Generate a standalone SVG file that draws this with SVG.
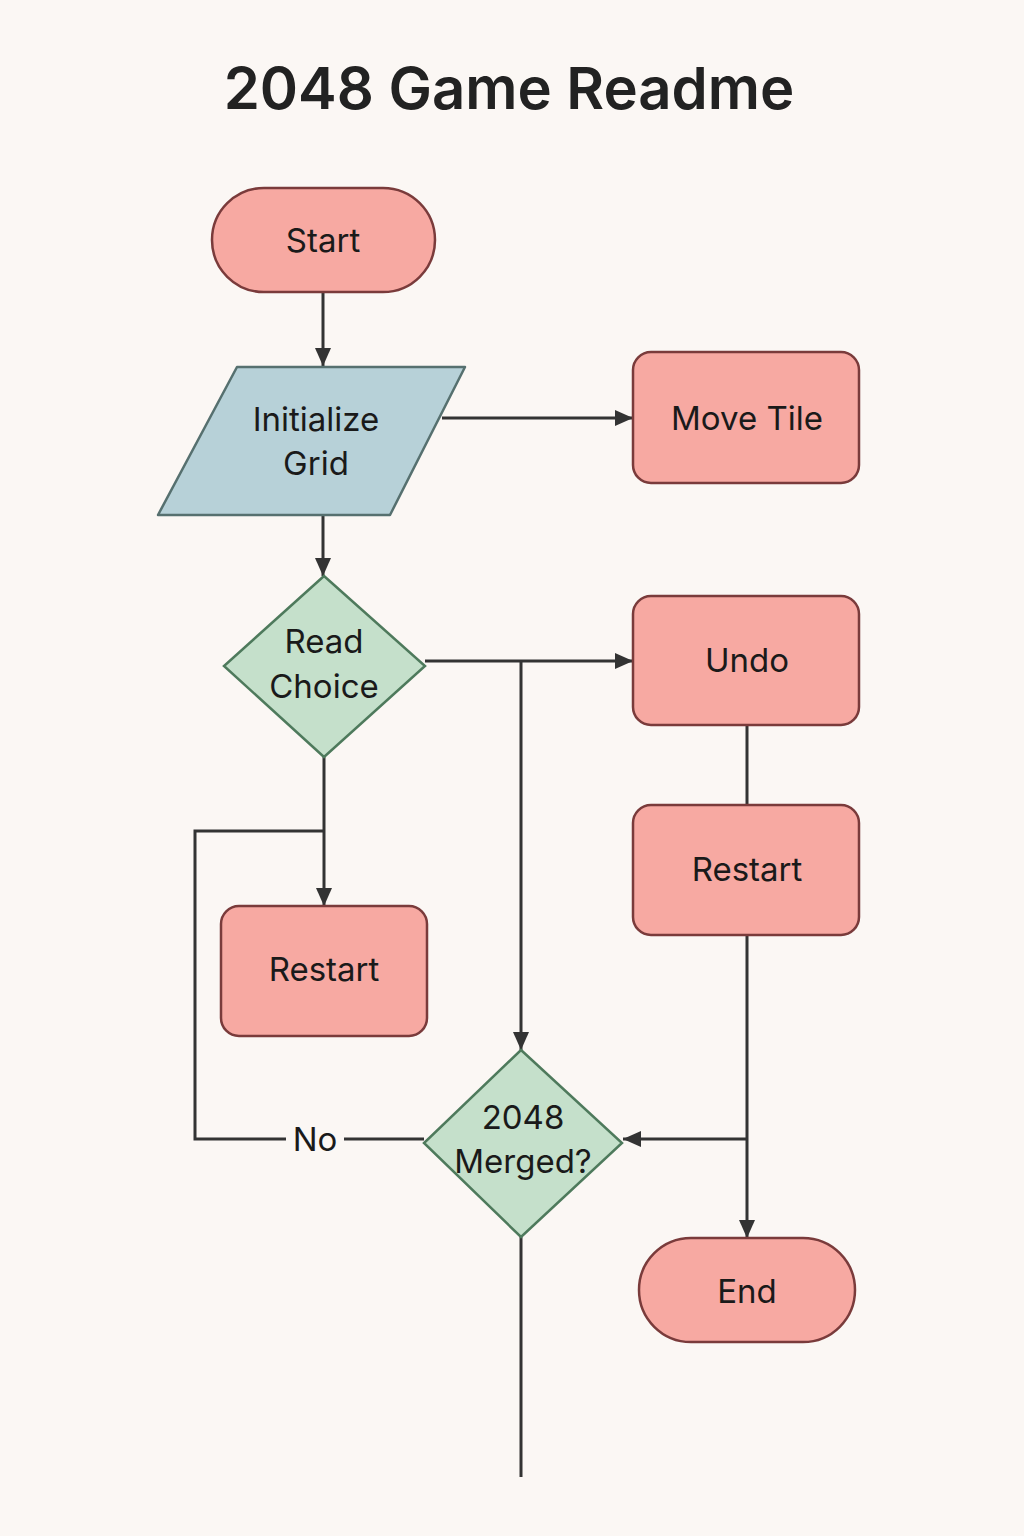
<svg xmlns="http://www.w3.org/2000/svg" width="1024" height="1536" viewBox="0 0 1024 1536">
<defs>
<marker id="ah" markerWidth="20" markerHeight="20" refX="18" refY="10" orient="auto" markerUnits="userSpaceOnUse">
<path d="M0,2 L18,10 L0,18 Z" fill="#333333"/>
</marker>
<style>
.term{fill:#F7A9A2;stroke:#7A3B3B;stroke-width:2.5}
.proc{fill:#F7A9A2;stroke:#7A3B3B;stroke-width:2.5}
.io{fill:#B7D1D8;stroke:#56706F;stroke-width:2.5;stroke-linejoin:round}
.dec{fill:#C5E0CB;stroke:#4E7A5C;stroke-width:2.5}
.lbl{font-family:Inter,"Noto Sans","Liberation Sans",sans-serif;font-size:33px;fill:#1a1a1a;text-anchor:middle;dominant-baseline:central}
.conn{fill:none;stroke:#333333;stroke-width:3}
</style>
</defs>
<rect width="1024" height="1536" fill="#FBF7F4"/>
<text x="509" y="88" font-family="Inter,'Noto Sans','Liberation Sans',sans-serif" font-size="58" font-weight="600" fill="#222222" text-anchor="middle" dominant-baseline="central">2048 Game Readme</text>

<g id="connectors">
<line class="conn" x1="323" y1="292" x2="323" y2="366" marker-end="url(#ah)"/>
<line class="conn" x1="442" y1="418" x2="633" y2="418" marker-end="url(#ah)"/>
<line class="conn" x1="323" y1="515" x2="323" y2="576" marker-end="url(#ah)"/>
<line class="conn" x1="425" y1="661" x2="633" y2="661" marker-end="url(#ah)"/>
<line class="conn" x1="521" y1="661" x2="521" y2="1050" marker-end="url(#ah)"/>
<line class="conn" x1="747" y1="725" x2="747" y2="805"/>
<line class="conn" x1="747" y1="935" x2="747" y2="1238" marker-end="url(#ah)"/>
<line class="conn" x1="747" y1="1139" x2="623" y2="1139" marker-end="url(#ah)"/>
<line class="conn" x1="324" y1="757" x2="324" y2="906" marker-end="url(#ah)"/>
<polyline class="conn" points="324,831 195,831 195,1139 286,1139"/>
<line class="conn" x1="344" y1="1139" x2="424" y2="1139"/>
<text class="lbl" x="315" y="1139">No</text>
<line class="conn" x1="521" y1="1237" x2="521" y2="1477"/>
</g>

<g id="start">
<rect class="term" x="212" y="188" width="223" height="104" rx="52"/>
<text class="lbl" x="323" y="240">Start</text>
</g>
<g id="init">
<path class="io" d="M237,367 L465,367 L390,515 L158,515 Z"/>
<text class="lbl" x="316" y="419">Initialize</text>
<text class="lbl" x="316" y="463">Grid</text>
</g>
<g id="move">
<rect class="proc" x="633" y="352" width="226" height="131" rx="18"/>
<text class="lbl" x="747" y="418">Move Tile</text>
</g>
<g id="read">
<path class="dec" d="M324,576 L425,666 L324,757 L224,666 Z"/>
<text class="lbl" x="324" y="641">Read</text>
<text class="lbl" x="324" y="686">Choice</text>
</g>
<g id="undo">
<rect class="proc" x="633" y="596" width="226" height="129" rx="18"/>
<text class="lbl" x="747" y="660">Undo</text>
</g>
<g id="restart2">
<rect class="proc" x="633" y="805" width="226" height="130" rx="18"/>
<text class="lbl" x="747" y="869">Restart</text>
</g>
<g id="restart1">
<rect class="proc" x="221" y="906" width="206" height="130" rx="18"/>
<text class="lbl" x="324" y="969">Restart</text>
</g>
<g id="merged">
<path class="dec" d="M521,1050 L622,1143 L521,1237 L424,1143 Z"/>
<text class="lbl" x="523" y="1117">2048</text>
<text class="lbl" x="523" y="1161">Merged?</text>
</g>
<g id="end">
<rect class="term" x="639" y="1238" width="216" height="104" rx="52"/>
<text class="lbl" x="747" y="1291">End</text>
</g>
</svg>
